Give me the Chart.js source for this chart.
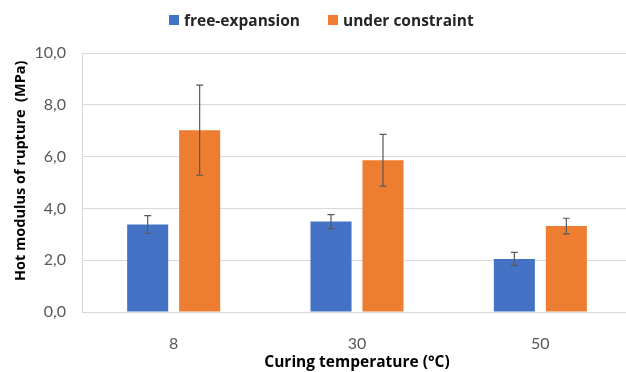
<!DOCTYPE html><html lang="en"><head><meta charset="utf-8"/>
<title>Hot modulus of rupture</title>
<script src="https://cdn.jsdelivr.net/npm/chart.js@4.4.1/dist/chart.umd.min.js"></script>
<style>
  *{box-sizing:border-box}
  html,body{margin:0;padding:0;background:#fff;overflow:hidden;width:626px;height:372px}
  #wrap{position:relative;width:632px;height:372px}
  .lg{position:absolute;top:9px;font:bold 15.5px "Open Sans",sans-serif;color:#262626;line-height:22px;white-space:nowrap}
  .lg i{position:absolute;left:-15px;top:6px;width:10px;height:10px}
</style></head><body>
<div id="wrap">
  <canvas id="c" width="632" height="372"></canvas>
  <div class="lg" style="left:184px"><i style="background:#4472C4"></i>free-expansion</div>
  <div class="lg" style="left:343px"><i style="background:#ED7D31"></i>under constraint</div>
</div>
<script>
const categories = ['8', '30', '50'];
const freeExpansion = [3.38, 3.49, 2.05];
const underConstraint = [7.02, 5.86, 3.32];
const freeErr = [0.34, 0.27, 0.25];
const constraintErr = [1.74, 1.0, 0.30];
const yTicks = [0, 2, 4, 6, 8, 10];

const errors = [freeErr, constraintErr];
const errorBars = {
  id: 'errorBars',
  afterDatasetsDraw(chart){
    const {ctx, scales:{y}} = chart;
    ctx.save();
    ctx.strokeStyle = '#595959'; ctx.lineWidth = 1.2;
    chart.data.datasets.forEach((ds, i) => {
      chart.getDatasetMeta(i).data.forEach((bar, j) => {
        const v = ds.data[j], e = errors[i][j];
        const top = y.getPixelForValue(v + e), bot = y.getPixelForValue(v - e);
        ctx.beginPath();
        ctx.moveTo(bar.x, top); ctx.lineTo(bar.x, bot);
        ctx.moveTo(bar.x - 3.5, top); ctx.lineTo(bar.x + 3.5, top);
        ctx.moveTo(bar.x - 3.5, bot); ctx.lineTo(bar.x + 3.5, bot);
        ctx.stroke();
      });
    });
    ctx.restore();
  }
};

new Chart(document.getElementById('c'), {
  type: 'bar',
  data: {
    labels: categories,
    datasets: [
      {label: 'free-expansion', data: freeExpansion, backgroundColor: '#4472C4'},
      {label: 'under constraint', data: underConstraint, backgroundColor: '#ED7D31'}
    ]
  },
  options: {
    responsive: false, animation: false,
    categoryPercentage: 0.567, barPercentage: 0.79,
    layout: {padding: {top: 53, right: 0, bottom: 0, left: 0}},
    plugins: {legend: {display: false}, tooltip: {enabled: false}},
    scales: {
      x: {
        grid: {display: false},
        border: {color: '#d9d9d9'},
        ticks: {color: '#595959', font: {family: 'Lato', size: 16}, padding: 14},
        title: {display: true, text: 'Curing temperature (°C)', color: '#000',
                font: {family: 'Open Sans', size: 15.5, weight: 'bold'}, padding: {bottom: 0}},
        afterFit: s => { s.height = 60; }
      },
      y: {
        min: 0, max: 10,
        afterBuildTicks: s => { s.ticks = yTicks.map(v => ({value: v})); },
        grid: {color: '#d9d9d9', drawTicks: false},
        border: {color: '#d9d9d9'},
        ticks: {color: '#595959', font: {family: 'Lato', size: 16}, padding: 16,
                callback: v => v.toFixed(1).replace('.', ',')},
        title: {display: true, text: 'Hot modulus of rupture  (MPa)  ', align: 'end', color: '#000',
                font: {family: 'Open Sans', size: 14.5, weight: 'bold'}, padding: {top: 12}},
        afterFit: s => { s.width = 82; }
      }
    }
  },
  plugins: [errorBars]
});
</script></body></html>
